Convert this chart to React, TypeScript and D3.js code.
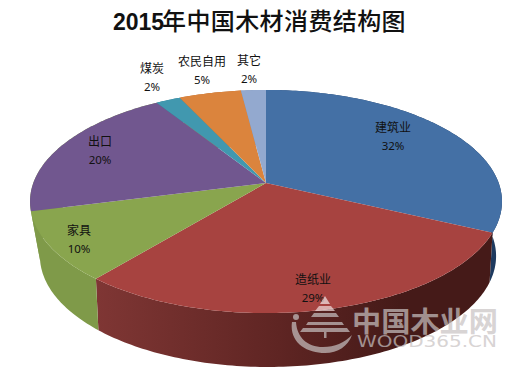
import React from "react";
import * as d3 from "d3";

const titleYear = "2015";
const titleRest = "年中国木材消费结构图";
const categories = ["建筑业", "造纸业", "家具", "出口", "煤炭", "农民自用", "其它"];
const values = [32, 29, 10, 20, 2, 5, 2];
const topColors = ["#4470A5", "#A74340", "#89A54E", "#71578F", "#4198AF", "#DB843D", "#93A9CF"];
const sideStops = [
  ["#234470", "#234470", "#1e3a5f"],
  ["#7f3634", "#5f2523", "#451a18"],
  ["#7f9a49", "#7a9545", "#7a9545"],
  ["#7f9a49", "#7f9a49", "#7f9a49"],
  ["#2f7a8f", "#2f7a8f", "#2f7a8f"],
  ["#b56a30", "#b56a30", "#b56a30"],
  ["#7a8fb0", "#7a8fb0", "#7a8fb0"],
];
const labelCentres = [
  [393, 127],
  [313, 279],
  [79, 230],
  [100, 141],
  [152, 68],
  [202, 61],
  [249, 60],
];

const W = 524;
const H = 375;
const topPlane = { cx: 266, a: 232.7, c: 108.5, y0: 183, b: 0.166 };
const basePlane = { cx: 268, a: 223, c: 106, y0: 232.8, b: 0.21 };

type Plane = typeof topPlane;
const project = (p: Plane, theta: number): [number, number] => {
  const u = Math.sin(theta);
  const v = -Math.cos(theta);
  const den = 1 - p.b * v;
  return [p.cx + (p.a * u) / den, p.y0 + (p.c * v) / den];
};

const arcs = d3.pie<number>().sort(null)(values);
const line = d3.line();
const sample = (a: number, b: number) => {
  const n = Math.max(2, Math.ceil((b - a) * 60));
  return d3.range(n + 1).map((i) => a + ((b - a) * i) / n);
};

const CJK = "'Noto Sans CJK SC', sans-serif";
const markFill = "#c8c2c2";

export default function App() {
  return (
    <svg
      width={W}
      height={H}
      viewBox={`0 0 ${W} ${H}`}
      style={{ position: "absolute", left: 0, top: 0, display: "block", background: "#fff" }}
    >
      <defs>
        {arcs.map((_, i) => (
          <linearGradient key={i} id={`side${i}`} gradientUnits="userSpaceOnUse" x1={96} x2={400} y1={0} y2={0}>
            <stop offset="0" stopColor={sideStops[i][0]} />
            <stop offset="0.6" stopColor={sideStops[i][1]} />
            <stop offset="1" stopColor={sideStops[i][2]} />
          </linearGradient>
        ))}
      </defs>

      <text y={30} fill="#111" fontSize={24} fontFamily={CJK}>
        <tspan x={113} fontFamily="'Liberation Sans', sans-serif" fontWeight={700} fontSize={23}>{titleYear}</tspan>
        <tspan x={162} fontWeight={500} fontSize={24} letterSpacing={0.4}>{titleRest}</tspan>
      </text>

      {arcs.map((d, i) => {
        const ts = sample(d.startAngle, d.endAngle);
        const pts = [...ts.map((t) => project(topPlane, t)), ...ts.slice().reverse().map((t) => project(basePlane, t))];
        return <path key={i} d={line(pts) + "Z"} fill={`url(#side${i})`} />;
      })}

      {arcs.map((d, i) => {
        const pts: [number, number][] = [
          [topPlane.cx, topPlane.y0],
          ...sample(d.startAngle, d.endAngle).map((t) => project(topPlane, t)),
        ];
        return <path key={i} d={line(pts) + "Z"} fill={topColors[i]} />;
      })}

      {categories.map((c, i) => (
        <g key={c} textAnchor="middle" fill="#111" fontFamily={CJK} fontSize={12}>
          <text x={labelCentres[i][0]} y={labelCentres[i][1] + 4.5}>{c}</text>
          <text x={labelCentres[i][0]} y={labelCentres[i][1] + 22.5} fontSize={11.5} fontFamily="'Noto Sans', sans-serif">{values[i]}%</text>
        </g>
      ))}

      <g opacity={0.7} fill={markFill}>
        <path d="M325 296 L330 304 L320 304 Z" fill="#f4e8e8" />
        <path d="M319 306 H331 L335 311 H315 Z" fill="#f0dcdc" />
        <path d="M314 313 H336 L339 317 H311 Z" />
        <path d="M308 322 H342 L344 325 H306 Z" />
        <path d="M303 328 H347 L350 332 H300 Z" />
        <rect x={324} y={332} width={2.5} height={6} />
        <path d="M292 322 C289 342 306 353 325 353 C338 353 348 346 352 335 C344 343 335 347 323 347 C307 347 297 337 296 322 Z" />
        <circle cx={296} cy={317} r={3} />
        <text x={352} y={332} fontFamily={CJK} fontWeight={700} fontSize={28} textLength={146} lengthAdjust="spacingAndGlyphs">中国木业网</text>
        <text x={357} y={347} fontFamily="'DejaVu Sans', sans-serif" fontSize={16} textLength={140} lengthAdjust="spacingAndGlyphs">WOOD365.CN</text>
      </g>
    </svg>
  );
}
